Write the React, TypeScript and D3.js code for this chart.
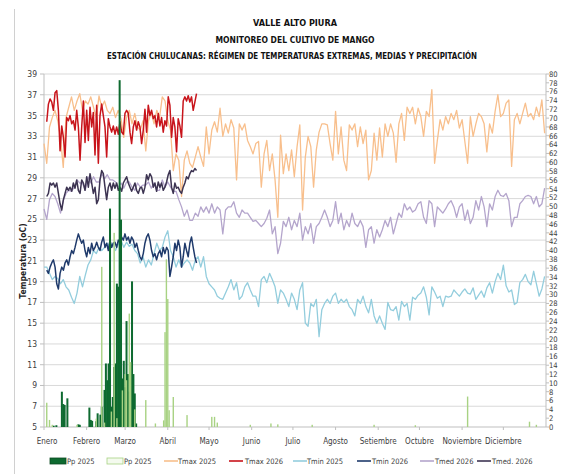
import React from 'react';
import * as d3 from 'd3';

// ---------- DATA ----------
const MONTHS = ['Enero', 'Febrero', 'Marzo', 'Abril', 'Mayo', 'Junio', 'Julio', 'Agosto', 'Setiembre', 'Octubre', 'Noviembre', 'Diciembre'];
const MONTH_START_DAYS = [0, 31, 59, 90, 120, 151, 181, 212, 243, 273, 304, 334];
const TEMP_TICKS = [5, 7, 9, 11, 13, 15, 17, 19, 21, 23, 25, 27, 29, 31, 33, 35, 37, 39];
const PP_TICKS = [0, 2, 4, 6, 8, 10, 12, 14, 16, 18, 20, 22, 24, 26, 28, 30, 32, 34, 36, 38, 40, 42, 44, 46, 48, 50, 52, 54, 56, 58, 60, 62, 64, 66, 68, 70, 72, 74, 76, 78, 80];

// 2025 series: one reading every 2 days starting 1 Jan
const STEP_2025 = 2;
const TMAX_2025 = [
  32.3, 30.4, 33.9, 34.8, 35.5, 34.5, 32.9, 30.0, 34.8, 35.8,
  36.8, 35.5, 36.4, 37.1, 35.5, 36.4, 36.1, 36.8, 35.8, 34.8,
  36.9, 35.8, 36.4, 35.5, 35.2, 35.8, 34.8, 35.5, 34.7, 32.9,
  34.8, 35.5, 34.2, 35.2, 33.9, 33.6, 34.5, 31.6, 34.5, 35.3,
  34.2, 35.5, 34.8, 36.8, 36.4, 34.5, 33.6, 29.7, 31.3, 30.7,
  27.2, 30.7, 31.6, 30.4, 30.0, 31.0, 32.0, 31.0, 30.1, 33.9,
  31.3, 33.6, 34.4, 33.4, 35.7, 33.0, 34.2, 33.3, 34.6, 33.8,
  28.8, 34.2, 33.6, 34.2, 32.6, 32.0, 31.3, 32.3, 32.5, 28.1,
  31.3, 32.6, 29.7, 31.3, 28.8, 25.2, 33.1, 29.4, 31.3, 29.7,
  31.7, 29.1, 32.0, 34.1, 25.9, 31.0, 33.0, 32.0, 28.1, 31.7,
  33.4, 34.2, 34.2, 34.1, 32.3, 30.7, 35.4, 31.3, 33.9, 30.7,
  29.7, 34.1, 33.6, 34.2, 32.0, 33.9, 32.3, 33.6, 28.8, 29.7,
  33.3, 30.7, 33.8, 31.0, 34.2, 33.0, 34.2, 33.3, 30.5, 34.2,
  35.2, 32.6, 35.8, 35.2, 35.8, 34.2, 35.7, 34.9, 33.0, 35.4,
  34.9, 37.5, 30.4, 32.6, 34.6, 33.6, 34.9, 34.2, 35.2, 34.6,
  35.5, 33.8, 34.6, 32.5, 30.4, 34.9, 33.0, 34.2, 35.2, 34.9,
  34.2, 31.5, 34.2, 33.3, 35.4, 37.0, 34.9, 35.2, 36.2, 36.5,
  30.1, 34.6, 35.2, 34.2, 35.2, 36.2, 34.9, 35.2, 34.6, 35.8,
  34.9, 36.5, 33.3,
];
const TMIN_2025 = [
  20.4, 20.4, 19.8, 19.2, 19.5, 19.3, 18.8, 19.2, 18.5, 18.2,
  17.5, 16.9, 17.9, 19.5, 18.5, 19.6, 20.6, 21.1, 22.0, 21.7,
  22.3, 22.0, 22.3, 22.7, 22.3, 22.7, 22.0, 22.6, 23.0, 22.3,
  22.8, 22.4, 22.6, 22.0, 21.7, 20.8, 21.4, 20.4, 21.1, 20.6,
  21.7, 22.7, 22.0, 22.3, 23.3, 23.9, 22.0, 21.4, 20.4, 21.1,
  20.4, 20.8, 21.1, 20.8, 20.1, 21.1, 21.4, 20.4, 21.4, 19.5,
  18.8, 18.5, 18.2, 17.6, 17.4, 17.3, 17.9, 18.5, 19.2, 18.2,
  18.9, 17.3, 17.6, 18.5, 18.9, 18.2, 17.6, 17.6, 16.6, 19.2,
  19.5, 18.9, 19.8, 19.2, 18.5, 16.9, 18.2, 17.9, 17.3, 16.6,
  17.9, 17.3, 16.3, 18.2, 18.9, 15.0, 14.7, 16.9, 16.6, 17.3,
  13.7, 16.3, 16.9, 17.3, 16.9, 17.6, 17.9, 16.9, 17.3, 17.0,
  17.3, 16.6, 16.3, 15.7, 17.3, 16.9, 17.6, 16.6, 16.0, 17.3,
  15.7, 15.0, 15.7, 15.0, 14.4, 17.0, 16.3, 16.2, 16.6, 15.3,
  17.1, 16.6, 16.9, 15.3, 17.5, 17.3, 17.7, 17.9, 18.5, 17.5,
  15.8, 18.5, 18.0, 17.4, 17.6, 16.6, 17.6, 17.5, 17.6, 18.2,
  17.9, 17.6, 18.0, 18.3, 17.9, 17.8, 18.4, 17.3, 17.7, 18.1,
  17.5, 18.4, 18.9, 17.9, 19.0, 19.8, 19.2, 20.6, 18.6, 18.0,
  18.2, 16.8, 17.0, 18.9, 19.2, 19.7, 19.0, 18.7, 20.0, 18.8,
  17.6, 18.3, 19.5,
];
const TMED_2025 = [
  26.0, 25.0, 26.9, 27.5, 27.2, 26.5, 25.6, 26.8, 27.5, 27.8,
  27.7, 28.1, 28.8, 28.5, 28.5, 27.8, 29.1, 28.5, 29.1, 28.6,
  28.6, 29.4, 28.9, 29.3, 28.8, 28.8, 28.6, 28.1, 28.5, 28.0,
  28.6, 28.6, 28.1, 27.8, 28.5, 28.1, 28.3, 28.3, 28.6, 28.0,
  28.5, 27.8, 27.8, 28.8, 28.1, 28.6, 28.1, 27.7, 27.7, 26.9,
  26.2, 25.3, 25.9, 24.9, 24.9, 25.6, 25.3, 26.2, 25.7, 26.2,
  25.6, 26.5, 25.6, 26.2, 25.9, 23.6, 25.9, 26.2, 26.2, 26.7,
  25.6, 25.2, 25.9, 25.6, 25.6, 25.2, 24.8, 24.9, 24.6, 24.3,
  24.6, 25.1, 25.9, 23.6, 24.3, 21.7, 22.7, 24.8, 24.3, 25.2,
  24.0, 24.9, 24.3, 25.6, 23.0, 24.3, 23.6, 24.6, 22.7, 24.3,
  24.6, 25.2, 25.9, 25.2, 24.3, 24.9, 26.7, 24.6, 25.6, 24.0,
  24.9, 24.3, 25.6, 24.6, 24.3, 24.9, 24.3, 22.3, 24.0, 24.3,
  22.7, 24.0, 23.3, 24.0, 24.9, 24.3, 25.2, 23.6, 24.6, 25.6,
  25.2, 26.5, 25.9, 26.2, 25.7, 25.9, 26.5, 26.7, 25.2, 24.6,
  26.8, 26.5, 24.3, 26.2, 25.9, 25.6, 26.0, 26.5, 26.8, 26.2,
  25.2, 26.2, 26.5, 24.9, 25.9, 24.6, 25.2, 26.8, 25.9, 27.2,
  26.2, 24.3, 26.5, 25.9, 27.2, 27.8, 27.3, 27.2, 27.5, 26.8,
  24.3, 25.2, 25.2, 26.5, 26.8, 27.2, 27.3, 27.2, 26.5, 27.2,
  26.2, 26.5, 28.0,
];

// 2026 series: readings from 3 Jan to about 22 Apr
const START_2026 = 2;
const STEP_2026 = 1.21;
const TMAX_2026 = [
  34.4, 36.1, 36.6, 36.3, 35.5, 37.2, 37.4, 35.5, 31.6, 34.0,
  32.9, 31.0, 34.8, 34.5, 35.0, 34.2, 34.5, 33.6, 35.5, 33.9,
  30.7, 33.9, 36.4, 32.4, 35.5, 32.6, 35.8, 33.9, 35.3, 31.2,
  36.0, 30.4, 35.0, 36.1, 35.0, 33.9, 31.0, 34.7, 33.9, 33.4,
  34.0, 33.2, 33.9, 33.2, 34.4, 33.4, 33.2, 35.2, 35.5, 35.2,
  33.4, 32.3, 33.9, 34.5, 33.6, 34.4, 33.9, 32.3, 33.6, 35.6,
  33.4, 36.0, 35.0, 35.5, 34.7, 35.0, 33.9, 35.2, 34.0, 34.8,
  33.4, 34.5, 34.0, 36.8, 36.0, 32.9, 34.8, 33.9, 31.5, 34.7,
  34.0, 32.9, 36.4, 36.8, 36.4, 36.9, 36.3, 36.8, 35.5, 36.3,
  37.1,
];
const TMIN_2026 = [
  20.1, 19.8, 20.4, 20.8, 21.1, 20.4, 18.8, 18.3, 19.8, 20.4,
  20.1, 20.8, 21.1, 20.6, 21.4, 22.0, 21.7, 22.3, 23.0, 23.6,
  23.1, 22.7, 23.0, 22.0, 21.4, 22.3, 21.7, 22.7, 22.0, 22.3,
  22.8, 22.3, 22.0, 22.8, 23.3, 22.3, 22.7, 22.0, 23.0, 22.3,
  22.7, 22.8, 22.3, 23.0, 22.7, 23.3, 23.0, 23.6, 23.0, 23.3,
  22.7, 23.3, 23.0, 22.3, 22.7, 22.0, 21.4, 21.1, 21.7, 22.7,
  23.3, 23.6, 23.0, 22.0, 21.4, 21.7, 21.1, 21.7, 22.0, 21.4,
  22.3, 21.7, 22.3, 22.0, 19.5, 20.4, 21.4, 22.7, 22.0, 23.0,
  22.3, 20.4, 21.4, 22.7, 22.0, 21.4, 22.7, 23.3, 22.3, 21.4,
  20.8,
];
const TMED_2026 = [
  27.2, 27.5, 28.5, 28.3, 28.5, 28.1, 28.5, 27.5, 26.5, 25.9,
  26.9, 27.5, 28.1, 27.8, 28.1, 27.7, 28.5, 28.0, 28.8, 27.8,
  27.5, 28.8, 28.5, 27.8, 29.1, 28.1, 29.4, 28.5, 27.5, 28.1,
  26.5, 26.9, 28.8, 29.7, 29.4, 28.1, 26.9, 28.1, 28.5, 27.8,
  28.5, 28.0, 28.5, 27.8, 28.1, 27.7, 28.5, 28.8, 29.1, 28.5,
  28.1, 27.7, 28.1, 28.5, 27.8, 27.5, 28.0, 28.1, 27.5, 28.1,
  29.3, 28.8, 29.4, 29.1, 28.1, 28.5, 27.7, 28.6, 28.1, 28.5,
  27.8, 28.1, 28.6, 29.3, 29.7, 28.1, 27.5, 28.5, 28.0, 28.1,
  27.7, 27.5, 28.1, 28.5, 29.1, 28.9, 29.4, 29.7, 29.6, 29.9,
  29.7,
];

// Precipitation events (day of year, mm)
const PP26_DAYS = [7, 9, 13, 14, 15, 17, 25, 26, 33, 34, 35, 38, 39, 41, 42, 44, 45, 46, 47, 48, 49, 50, 51, 52, 53, 54, 55, 56, 57, 58, 59, 60, 61, 62, 63, 64, 65, 66, 67];
const PP26_MM = [0.3, 0.4, 8.0, 5.2, 5.0, 6.5, 0.6, 0.5, 4.4, 1.6, 1.4, 1.3, 3.1, 2.8, 4.6, 8.4, 14.4, 10.6, 14.4, 49.5, 4.6, 6.8, 13.6, 14.4, 32.5, 31.8, 78.6, 47.0, 11.0, 15.0, 9.0, 24.0, 12.0, 8.0, 14.0, 33.0, 12.0, 7.6, 0.8];
const PP25_DAYS = [2, 4, 6, 24, 38, 42, 44, 49, 51, 53, 57, 59, 60, 62, 63, 66, 74, 81, 87, 88, 89, 90, 91, 94, 104, 122, 124, 126, 150, 165, 170, 195, 240, 270, 308, 353, 358];
const PP25_MM = [5.5, 1.6, 0.5, 0.5, 1.9, 36.3, 1.0, 3.5, 44.0, 2.0, 8.3, 12.0, 10.6, 25.7, 14.7, 4.0, 6.1, 0.8, 1.5, 21.5, 38.0, 29.0, 3.8, 6.8, 2.7, 2.3, 2.3, 1.0, 0.5, 0.8, 0.6, 0.5, 0.5, 0.4, 6.9, 1.2, 0.5];

const LEGEND_LABELS = ['Pp 2025', 'Pp 2025', 'Tmax 2025', 'Tmax 2026', 'Tmin 2025', 'Tmin 2026', 'Tmed 2026', 'Tmed. 2026'];

// ---------- STYLE ----------
const FONT = "'Liberation Sans Narrow','DejaVu Sans Condensed','Arial Narrow',Arial,sans-serif";
const C = {
  tmax25: '#F8BF8C',
  tmax26: '#C8141B',
  tmin25: '#93CDDD',
  tmin26: '#1F3A6B',
  tmed25: '#B4A5CC',
  tmed26: '#3D3452',
  pp26: '#0E6A30',
  pp25: '#A8D283',
  grid: '#D9D9D9',
  text: '#404040',
};

export default function App() {
  const W = 562;
  const H = 474;
  const L = 44, R = 546, T = 74, B = 427;

  const x = d3.scaleLinear().domain([0, 365]).range([L, R]);
  const yT = d3.scaleLinear().domain([5, 39]).range([B, T]);
  const yP = d3.scaleLinear().domain([0, 80]).range([B, T]);

  const line25 = d3.line<number>().x((_, i) => x(i * STEP_2025)).y((v) => yT(v));
  const line26 = d3.line<number>().x((_, i) => x(START_2026 + i * STEP_2026)).y((v) => yT(v));

  const series = [
    { d: line25(TMAX_2025), c: C.tmax25, w: 1.3 },
    { d: line26(TMAX_2026), c: C.tmax26, w: 1.5 },
    { d: line25(TMIN_2025), c: C.tmin25, w: 1.3 },
    { d: line26(TMIN_2026), c: C.tmin26, w: 1.5 },
    { d: line25(TMED_2025), c: C.tmed25, w: 1.3 },
    { d: line26(TMED_2026), c: C.tmed26, w: 1.5 },
  ];

  const legendItems = [
    { kind: 'barDark', x: 50, tx: 67 },
    { kind: 'barLight', x: 107, tx: 124 },
    { kind: 'line', c: C.tmax25, x: 164, tx: 178 },
    { kind: 'line', c: C.tmax26, x: 229, tx: 245 },
    { kind: 'line', c: C.tmin25, x: 293, tx: 307 },
    { kind: 'line', c: C.tmin26, x: 357, tx: 372 },
    { kind: 'line', c: C.tmed25, x: 420, tx: 435 },
    { kind: 'line', c: C.tmed26, x: 477, tx: 492 },
  ];
  const legY = 461;

  return (
    <svg width={W} height={H} style={{ position: 'absolute', left: 0, top: 0, background: '#fff' }} fontFamily={FONT}>
      <rect x={0} y={0} width={W} height={H} fill="#fff" />
      <line x1={14.5} x2={14.5} y1={9} y2={H} stroke="#D0D0D0" strokeWidth={1} />

      {/* Titles */}
      <g fontWeight="bold" fill="#111" fontSize={9.5} textAnchor="middle" style={{ whiteSpace: 'pre' }}>
        <text x={295} y={26.4} textLength={84} lengthAdjust="spacingAndGlyphs">VALLE  ALTO PIURA</text>
        <text x={295} y={43.4} textLength={159} lengthAdjust="spacingAndGlyphs">MONITOREO DEL CULTIVO DE MANGO</text>
        <text x={292} y={58.9} textLength={370} lengthAdjust="spacingAndGlyphs">ESTACIÓN CHULUCANAS:  RÉGIMEN DE TEMPERATURAS EXTREMAS, MEDIAS Y PRECIPITACIÓN</text>
      </g>

      {/* Gridlines */}
      {TEMP_TICKS.map((t) => (
        <line key={'g' + t} x1={L} x2={R} y1={yT(t)} y2={yT(t)} stroke={t === 5 ? '#BFBFBF' : C.grid} strokeWidth={1} />
      ))}

      {/* Left axis */}
      <line x1={L} x2={L} y1={T} y2={B} stroke="#BFBFBF" />
      {TEMP_TICKS.map((t) => (
        <g key={'l' + t}>
          <line x1={L - 4} x2={L} y1={yT(t)} y2={yT(t)} stroke="#BFBFBF" />
          <text x={37} y={yT(t) + 3} textAnchor="end" fontSize={8.5} fill={C.text}>{t}</text>
        </g>
      ))}
      <text transform={`translate(26,261) rotate(-90)`} textAnchor="middle" fontSize={8.5} fontWeight="bold" fill="#222">Temperatura (oC)</text>

      {/* Right axis */}
      <line x1={R} x2={R} y1={T} y2={B} stroke="#BFBFBF" />
      {PP_TICKS.map((p) => (
        <g key={'r' + p}>
          <line x1={R} x2={R + 3} y1={yP(p)} y2={yP(p)} stroke="#BFBFBF" />
          <text x={R + 3} y={yP(p) + 2.8} fontSize={7.6} fill={C.text}>{p}</text>
        </g>
      ))}

      {/* X axis */}
      {MONTH_START_DAYS.map((d, i) => (
        <g key={'m' + i}>
          <line x1={x(d)} x2={x(d)} y1={B} y2={B + 3} stroke="#BFBFBF" />
          <text x={i === 0 ? x(d) + 3 : x(d)} y={444} textAnchor="middle" fontSize={8} fill={C.text}>{MONTHS[i]}</text>
        </g>
      ))}

      {/* Temperature lines */}
      <g fill="none" strokeLinejoin="round">
        {series.map((s, i) => (
          <path key={'s' + i} d={s.d || ''} stroke={s.c} strokeWidth={s.w} />
        ))}
      </g>

      {/* Precipitation bars */}
      {PP26_DAYS.map((d, i) => (
        <rect key={'p26' + i} x={x(d) - 1} width={2} y={yP(PP26_MM[i])} height={yP(0) - yP(PP26_MM[i])} fill={C.pp26} />
      ))}
      {PP25_DAYS.map((d, i) => (
        <rect key={'p25' + i} x={x(d) - 0.7} width={1.4} y={yP(PP25_MM[i])} height={yP(0) - yP(PP25_MM[i])} fill={C.pp25} />
      ))}

      {/* Legend */}
      {legendItems.map((it, i) => (
        <g key={'lg' + i}>
          {it.kind === 'barDark' && <rect x={it.x} y={legY - 3} width={16} height={6} fill={C.pp26} stroke="#0A4A22" strokeWidth={0.8} />}
          {it.kind === 'barLight' && <rect x={it.x} y={legY - 3} width={16} height={6} fill="#F4FAEE" stroke={C.pp25} strokeWidth={0.8} />}
          {it.kind === 'line' && <line x1={it.x} x2={it.x + 14} y1={legY} y2={legY} stroke={it.c} strokeWidth={1.6} />}
          <text x={it.tx} y={legY + 2.6} fontSize={7.5} fill={C.text}>{LEGEND_LABELS[i]}</text>
        </g>
      ))}
    </svg>
  );
}
